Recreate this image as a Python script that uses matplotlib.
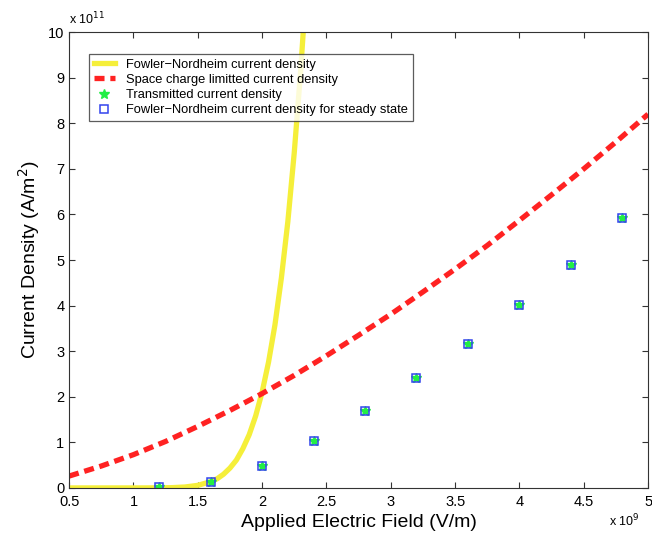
import numpy as np
import matplotlib.pyplot as plt

plt.rcParams['font.family'] = ['Liberation Sans', 'DejaVu Sans']

# Applied field in units of 1e9 V/m, current density in units of 1e11 A/m^2
fn_field = [0.5, 0.8, 1.0, 1.1, 1.2, 1.3, 1.4, 1.5, 1.6, 1.65, 1.7, 1.75, 1.8, 1.85,
            1.9, 1.95, 2.0, 2.05, 2.1, 2.15, 2.2, 2.25, 2.3, 2.35]
fn_density = [0.0, 0.0, 0.0001, 0.0005, 0.0017, 0.0064, 0.020, 0.056, 0.137, 0.20,
              0.30, 0.435, 0.61, 0.86, 1.17, 1.58, 2.10, 2.76, 3.58, 4.61, 5.84,
              7.36, 9.16, 11.3]

sc_field = [0.5, 0.75, 1.0, 1.25, 1.5, 1.75, 2.0, 2.25, 2.5, 2.75, 3.0, 3.25, 3.5,
            3.75, 4.0, 4.25, 4.5, 4.75, 5.0]
sc_density = [0.26, 0.48, 0.73, 1.02, 1.35, 1.70, 2.07, 2.47, 2.90, 3.35, 3.81,
              4.30, 4.80, 5.32, 5.87, 6.43, 7.00, 7.59, 8.20]

pt_field = [1.2, 1.6, 2.0, 2.4, 2.8, 3.2, 3.6, 4.0, 4.4, 4.8]
pt_density = [0.02, 0.12, 0.48, 1.03, 1.69, 2.41, 3.16, 4.01, 4.89, 5.92]

fig = plt.figure(figsize=(6.52, 5.35), dpi=100)
ax = fig.add_axes([0.106, 0.088, 0.888, 0.852])

ax.plot(fn_field, fn_density, color="#f5ef3a", linewidth=3.8,
        label="Fowler\u2212Nordheim current density")
ax.plot(sc_field, sc_density, color="#ff2222", linewidth=3.8, linestyle=(0, (1.9, 1.1)),
        label="Space charge limitted current density")
ax.plot(pt_field, pt_density, linestyle="none", marker="*", color="#22ee44",
        markersize=7, label="Transmitted current density")
ax.plot(pt_field, pt_density, linestyle="none", marker="s", markerfacecolor="none",
        markeredgecolor="#3344ee", markersize=6, markeredgewidth=1.1,
        label="Fowler\u2212Nordheim current density for steady state")

ax.set_xlim(0.5, 5)
ax.set_ylim(0, 10)
ax.set_xticks(np.arange(0.5, 5.01, 0.5))
ax.set_xticklabels(["0.5", "1", "1.5", "2", "2.5", "3", "3.5", "4", "4.5", "5"])
ax.set_yticks(np.arange(0, 11, 1))
ax.tick_params(direction="in", top=True, right=True, labelsize=10.5, length=4,
               color="#333333")
ax.tick_params(axis="x", pad=5)
for s in ax.spines.values():
    s.set_color("#333333")

ax.set_xlabel("Applied Electric Field (V/m)", fontsize=14, labelpad=4)
ax.set_ylabel("Current Density (A/m$^2$)", fontsize=14, labelpad=4)
ax.text(0.0, 1.01, "x 10$^{11}$", transform=ax.transAxes, fontsize=9,
        ha="left", va="bottom")
ax.text(0.985, -0.055, "x 10$^{9}$", transform=ax.transAxes, fontsize=9,
        ha="right", va="top")

leg = ax.legend(loc="upper left", bbox_to_anchor=(0.035, 0.952), fontsize=9.3,
                frameon=True, fancybox=False, edgecolor="#333333",
                handlelength=1.6, borderpad=0.35, labelspacing=0.25,
                handletextpad=0.9, borderaxespad=0)
leg.get_frame().set_linewidth(0.9)

fig.savefig("out.png", dpi=100)
